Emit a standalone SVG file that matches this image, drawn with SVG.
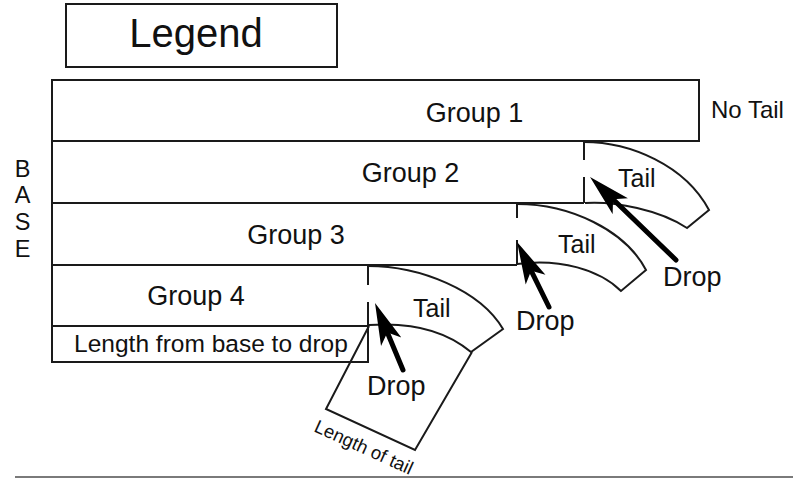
<svg xmlns="http://www.w3.org/2000/svg" width="793" height="479" viewBox="0 0 793 479">
<style>
  .ln { fill: none; stroke: #1a1a1a; stroke-width: 2; }
  .t { font-family: "Liberation Sans", Arial, sans-serif; fill: #111; }
  .c { text-anchor: middle; }
  .arrow { fill: none; stroke: #000; stroke-width: 5; stroke-linecap: round; marker-end: url(#ah); }
</style>
<defs>
  <marker id="ah" viewBox="0 -12 42 24" refX="14" refY="0" markerWidth="42" markerHeight="24" markerUnits="userSpaceOnUse" orient="auto">
    <path d="M42,0 L0,-11 L10,0 L0,11 Z" fill="#000"/>
  </marker>
</defs>
<rect width="793" height="479" fill="#fff"/>

<g id="legend">
  <rect class="ln" x="66" y="4" width="271" height="63"/>
  <text class="t c" x="196" y="47" font-size="40">Legend</text>
</g>

<g id="base">
  <text class="t c" x="22.5" y="176.5" font-size="23.5"><tspan x="22.5">B</tspan><tspan x="22.5" dy="26.7">A</tspan><tspan x="22.5" dy="26.7">S</tspan><tspan x="22.5" dy="26.7">E</tspan></text>
</g>

<g id="group1">
  <rect class="ln" x="52" y="80" width="647" height="61"/>
  <text class="t c" x="474.5" y="122" font-size="27">Group 1</text>
  <text class="t" x="711" y="118" font-size="24">No Tail</text>
</g>

<g id="group2">
  <path class="ln" d="M584,141 H52 V203 H584 M584,141 V160 M584,177 V203"/>
  <text class="t c" x="410.5" y="182" font-size="27">Group 2</text>
  <path class="ln" d="M584,142 C630,142 685,165 709,210 L687,228 C660,210 615,201 585,203"/>
  <text class="t" x="618" y="187" font-size="25">Tail</text>
  <text class="t" x="663" y="286" font-size="27">Drop</text>
</g>

<g id="group3">
  <path class="ln" d="M517,203 H52 V265 H517 M517,203 V218 M517,240 V265"/>
  <text class="t c" x="296" y="244" font-size="27">Group 3</text>
  <path class="ln" d="M517,204 C570,204 625,230 646,270 L621,291 C600,270 560,258 517,264"/>
  <text class="t" x="558" y="253" font-size="25">Tail</text>
  <text class="t" x="516" y="330" font-size="27">Drop</text>
</g>

<g id="group4">
  <path class="ln" d="M368,265 H52 V326 H368 M368,265 V285 M368,302 V326"/>
  <text class="t c" x="196" y="305" font-size="27">Group 4</text>
  <path class="ln" d="M368,266 C420,266 480,290 503,329 L471,352 C445,330 410,322 369,325"/>
  <text class="t" x="413" y="317" font-size="25">Tail</text>
  <text class="t" x="367" y="395" font-size="27">Drop</text>
</g>

<g id="length-base">
  <rect class="ln" x="52" y="326" width="316" height="36"/>
  <text class="t c" x="211" y="352" font-size="24.5">Length from base to drop</text>
</g>

<g id="length-tail">
  <path class="ln" d="M369,326 L326,409 L415,450 L472,352"/>
  <text class="t" x="0" y="0" font-size="18.5" transform="translate(313,431) rotate(24.5)">Length of tail</text>
</g>

<g id="connectors">
  <path class="arrow" d="M403,370 L385.8,328.8"/>
  <path class="arrow" d="M549,307 L529.4,267.1"/>
  <path class="arrow" d="M676,260 L610.2,196.5"/>
</g>

<line x1="15" y1="477" x2="793" y2="477" stroke="#7a7a7a" stroke-width="2"/>
</svg>
